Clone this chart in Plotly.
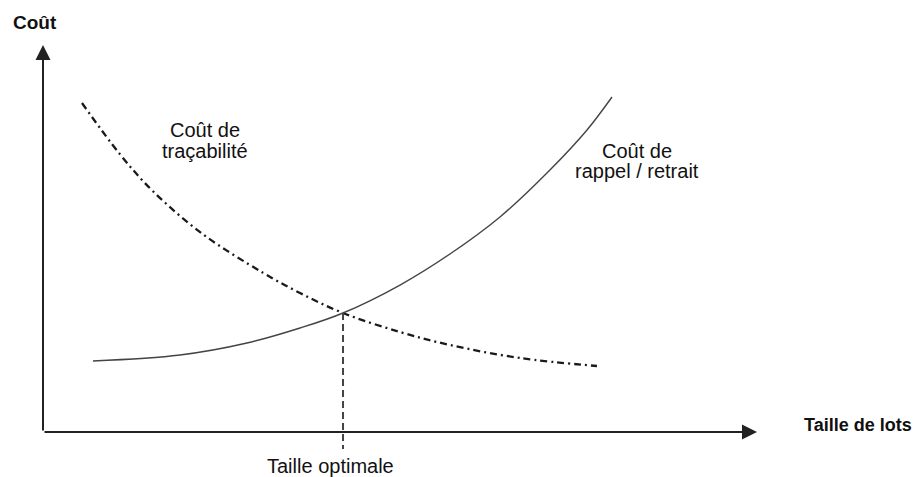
import plotly.graph_objects as go

# Conceptual chart values (x: taille de lots, y: coût), arbitrary units 0..100
trace_x = [5.46, 10.78, 15.41, 22.41, 30.81, 35.99, 42.02, 50.0, 57.0, 66.81, 77.59]
trace_y = [85.01, 71.76, 62.20, 51.09, 41.16, 35.92, 30.75, 25.84, 22.48, 19.12, 17.05]

rappel_x = [7.0, 19.19, 28.57, 36.0, 42.02, 50.0, 57.0, 64.0, 71.0, 76.19, 79.69]
rappel_y = [18.35, 19.9, 23.0, 26.87, 30.75, 37.98, 46.0, 55.56, 67.7, 78.04, 86.56]

optimal_x = 42.02
optimal_y = 30.75
axis_max = 100

FONT = "Liberation Sans, Arial, sans-serif"
TXT = "#111111"

fig = go.Figure()

fig.add_trace(go.Scatter(
    x=trace_x, y=trace_y, mode="lines", line_shape="spline",
    line=dict(color="#1a1a1a", width=2.3, dash="7px,4px,2px,4px"),
    hoverinfo="skip", showlegend=False))

fig.add_trace(go.Scatter(
    x=rappel_x, y=rappel_y, mode="lines", line_shape="spline",
    line=dict(color="#444444", width=1.4),
    hoverinfo="skip", showlegend=False))

fig.add_trace(go.Scatter(
    x=[optimal_x, optimal_x], y=[optimal_y, -4.4], mode="lines",
    line=dict(color="#444444", width=2, dash="7px,4px"),
    hoverinfo="skip", showlegend=False))

annotations = [
    # axes arrows
    dict(x=0, y=axis_max, ax=0, ay=0, xref="x", yref="y", axref="x", ayref="y",
         showarrow=True, arrowhead=2, arrowsize=1.5, arrowwidth=2, arrowcolor="#222222",
         standoff=0, text=""),
    dict(x=axis_max, y=0, ax=0, ay=0, xref="x", yref="y", axref="x", ayref="y",
         showarrow=True, arrowhead=2, arrowsize=1.5, arrowwidth=2, arrowcolor="#222222",
         standoff=0, text=""),
    # labels
    dict(x=-1.12, y=105.74, text="<b>Coût</b>", showarrow=False,
         font=dict(family=FONT, size=19, color=TXT), xanchor="center", yanchor="middle"),
    dict(x=106.3, y=1.81, text="<b>Taille de lots</b>", showarrow=False,
         font=dict(family=FONT, size=18, color=TXT), xanchor="left", yanchor="middle"),
    dict(x=40.2, y=-8.79, text="Taille optimale", showarrow=False,
         font=dict(family=FONT, size=20, color=TXT), xanchor="center", yanchor="middle"),
    dict(x=22.69, y=78.04, text="Coût de", showarrow=False,
         font=dict(family=FONT, size=20, color=TXT), xanchor="center", yanchor="middle"),
    dict(x=22.69, y=72.61, text="traçabilité", showarrow=False,
         font=dict(family=FONT, size=20, color=TXT), xanchor="center", yanchor="middle"),
    dict(x=83.26, y=72.74, text="Coût de", showarrow=False,
         font=dict(family=FONT, size=20, color=TXT), xanchor="center", yanchor="middle"),
    dict(x=83.19, y=67.44, text="rappel / retrait", showarrow=False,
         font=dict(family=FONT, size=20, color=TXT), xanchor="center", yanchor="middle"),
]

# The page body adds an 8px offset, so the figure is 912x469 and the ranges
# are set so that the drawing lands where the reference has it.
fig.update_layout(
    width=912, height=469,
    margin=dict(l=0, r=0, t=0, b=0),
    paper_bgcolor="white", plot_bgcolor="white",
    xaxis=dict(range=[-4.902, 122.829], visible=False, fixedrange=True),
    yaxis=dict(range=[-11.628, 109.561], visible=False, fixedrange=True),
    annotations=annotations,
    showlegend=False,
)

fig.write_html("out.html")
